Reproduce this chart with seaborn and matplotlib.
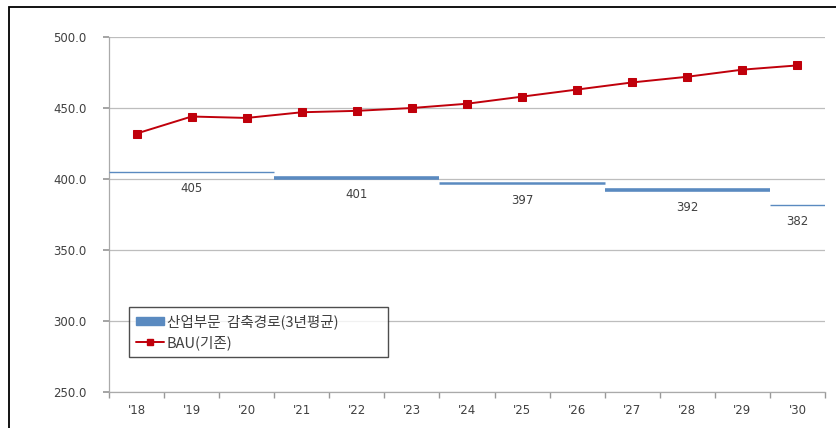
import matplotlib
matplotlib.use("Agg")
import matplotlib.pyplot as plt
from matplotlib.patches import Rectangle
from matplotlib.lines import Line2D
from matplotlib.patches import Patch
import seaborn as sns
import pandas as pd
import numpy as np

# Years on the x axis
years = ["'18", "'19", "'20", "'21", "'22", "'23", "'24", "'25", "'26", "'27", "'28", "'29", "'30"]

# BAU (기존) emissions
bau = [432, 444, 443, 447, 448, 450, 453, 458, 463, 468, 472, 477, 480]

# Industry reduction pathway, 3-year averages: first and last year of each period
path_start = ["'18", "'21", "'24", "'27", "'30"]
path_end = ["'20", "'23", "'26", "'29", "'30"]
path_value = [405, 401, 397, 392, 382]
path_width = [1.0, 2.6, 1.8, 2.6, 1.0]

y_ticks = [250, 300, 350, 400, 450, 500]

sns.set_theme(style="white")
plt.rcParams["font.family"] = ["DejaVu Sans", "Noto Sans CJK KR"]

blue = "#5a8ac0"
red = "#c0000b"
text_c = "#404040"
grid_c = "#bdbdbd"
tick_fs = 8.5

fig = plt.figure(figsize=(8.36, 4.28), dpi=100)
ax = fig.add_axes([109 / 836, 36 / 428, 716 / 836, 355 / 428])

df = pd.DataFrame({"year": years, "bau": bau})
df["x"] = np.arange(len(years))

# reduction pathway segments with their value written underneath
for s, e, v, w in zip(path_start, path_end, path_value, path_width):
    x0 = years.index(s) - 0.5
    x1 = years.index(e) + 0.5
    ax.hlines(v, x0, x1, color=blue, linewidth=w, zorder=3)
    ax.text((x0 + x1) / 2, v - 12, f"{v}", ha="center", va="center",
            fontsize=tick_fs, color=text_c)

sns.lineplot(data=df, x="x", y="bau", ax=ax, color=red, linewidth=1.4,
             marker="s", markersize=5.5, markeredgecolor=red, zorder=4,
             legend=False)

ax.set_xlim(-0.5, len(years) - 0.5)
ax.set_ylim(250, 500)
ax.set_yticks(y_ticks)
ax.set_yticklabels([f"{t:.1f}" for t in y_ticks], fontsize=tick_fs, color=text_c)
ax.set_xticks(df["x"])
ax.set_xticklabels(years, fontsize=tick_fs, color=text_c)
ax.set_xlabel("")
ax.set_ylabel("")

# category boundary ticks on the x axis
ax.set_xticks(np.arange(-0.5, len(years) + 0.5, 1), minor=True)
ax.tick_params(axis="x", which="major", length=0, pad=9)
ax.tick_params(axis="x", which="minor", length=4, color="#999999", bottom=True)
ax.tick_params(axis="y", length=4, color="#999999", left=True, pad=12)

ax.grid(axis="y", color=grid_c, linewidth=0.9)
ax.grid(axis="x", visible=False)
ax.set_axisbelow(True)
for side in ["top", "right"]:
    ax.spines[side].set_visible(False)
for side in ["left", "bottom"]:
    ax.spines[side].set_color("#aaaaaa")
    ax.spines[side].set_linewidth(0.9)

handles = [
    Patch(facecolor=blue, edgecolor=blue),
    Line2D([0], [0], color=red, linewidth=1.4, marker="s", markersize=5),
]
labels = ["산업부문  감축경로(3년평균)", "BAU(기존)"]
leg = ax.legend(handles, labels, loc="upper left",
                bbox_to_anchor=((129 - 109) / 716, (392 - 357) / 355,
                                259 / 716, 50 / 355),
                mode="expand", frameon=True, fancybox=False,
                prop={"family": ["Noto Sans CJK KR", "DejaVu Sans"], "size": 10.5},
                handlelength=1.9, handleheight=0.4, handletextpad=0.2,
                borderpad=0.5, labelspacing=0.4, borderaxespad=0)
leg.get_frame().set_edgecolor("#222222")
leg.get_frame().set_linewidth(1.0)
for t in leg.get_texts():
    t.set_color(text_c)

# outer frame of the figure
fig.patches.append(Rectangle((9 / 836, -0.1), 1.2, 1.1 - 7 / 428,
                             transform=fig.transFigure, fill=False,
                             edgecolor="black", linewidth=1.3))

fig.savefig("out.png", dpi=100)
